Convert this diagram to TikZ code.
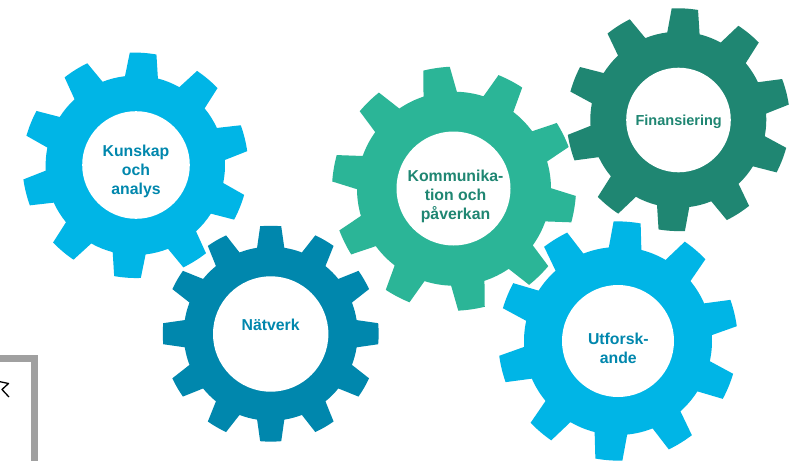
\documentclass[tikz,border=0pt]{standalone}
\usepackage{fontspec}
\setmainfont{Liberation Sans}
\definecolor{cblue}{HTML}{00B5E6}
\definecolor{cdark}{HTML}{0087AD}
\definecolor{cteal}{HTML}{2BB597}
\definecolor{cgreen}{HTML}{1F8672}
\definecolor{cframe}{HTML}{A0A0A0}
% #1 cx #2 cy #3 root #4 tip #5 start angle #6 teeth #7 half tip #8 half base #9 colour
\newcommand{\gearbody}[9]{%
\pgfmathsetmacro{\gstep}{360/#6}
\pgfmathsetmacro{\gthird}{(\gstep-2*#8)/3}
\pgfmathsetmacro{\gctl}{#3/cos(\gthird)}
\pgfmathsetmacro{\gtctl}{#4*(1+0.6*(1/cos(2*#7/3)-1))}
\pgfmathtruncatemacro{\glast}{#6-1}
\fill[#9,shift={(#1,#2)}] ({#3*cos(#5-#8)},{-#3*sin(#5-#8)})
\foreach \gi [evaluate=\gi as \ga using #5+\gstep*\gi] in {0,...,\glast}{
 -- ({#3*cos(\ga-#8)},{-#3*sin(\ga-#8)})
 -- ({#4*cos(\ga-#7)},{-#4*sin(\ga-#7)})
 .. controls ({\gtctl*cos(\ga-#7/3)},{-\gtctl*sin(\ga-#7/3)}) and ({\gtctl*cos(\ga+#7/3)},{-\gtctl*sin(\ga+#7/3)}) .. ({#4*cos(\ga+#7)},{-#4*sin(\ga+#7)})
 -- ({#3*cos(\ga+#8)},{-#3*sin(\ga+#8)})
 .. controls ({\gctl*cos(\ga+#8+\gthird)},{-\gctl*sin(\ga+#8+\gthird)}) and ({\gctl*cos(\ga+#8+2*\gthird)},{-\gctl*sin(\ga+#8+2*\gthird)}) .. ({#3*cos(\ga+\gstep-#8)},{-#3*sin(\ga+\gstep-#8)})
} -- cycle;
}
\tikzset{
 gtext/.style={font=\fontsize{15.8}{19.3}\selectfont\bfseries,align=center,inner sep=0pt},
 hole/.style={circle,fill=white,inner sep=0pt,minimum size=#1}
}
\begin{document}
\begin{tikzpicture}[x=1pt,y=-1pt]
\useasboundingbox (0,0) rectangle (800,461);
\fill[white] (0,0) rectangle (800,461);
\begin{scope}
\clip (0,0) rectangle (800,461);
\gearbody{135.3}{165.3}{89.7}{112.8}{86}{10}{6.8}{10.6}{cblue}
\gearbody{678.3}{119.7}{88}{111.5}{86.6}{10}{6.8}{10.6}{cgreen}
\gearbody{454}{188.7}{97}{122}{98.3}{10}{6.3}{10}{cteal}
\gearbody{618}{341}{94}{119.7}{85.6}{10}{6.5}{10}{cblue}
\gearbody{270.7}{333.7}{87}{108}{90}{12}{5.6}{9}{cdark}
\end{scope}
\node[hole=107.6pt] (h1) at (136,165) {};
\node[hole=104.6pt] (h2) at (678.5,120) {};
\node[hole=114pt] (h3) at (453.5,188.5) {};
\node[hole=112pt] (h4) at (618,341) {};
\node[hole=115.4pt] (h5) at (270.7,334) {};
\node[gtext,text=cdark] (t1) at (136,171.5) {Kunskap\\och\\analys};
\node[gtext,text=cgreen,font=\fontsize{14.5}{18}\selectfont\bfseries] (t2) at (678.7,121.5) {Finansiering};
\node[gtext,text=cgreen] (t3) at (455.5,196.5) {Kommunika-\\tion och\\påverkan};
\node[gtext,text=cdark] (t4) at (618.3,348) {Utforsk-\\ande};
\node[gtext,text=cdark] (t5) at (270.7,325.3) {Nätverk};
\fill[cframe] (0,355) rectangle (38,461);
\fill[white] (0,361.5) rectangle (31,461);
\coordinate (s0) at (0,381.7);
\coordinate (s1) at (8.5,383.5);
\coordinate (s2) at (2,389.5);
\coordinate (s3) at (9,397);
\draw[black,line width=1.3pt,line join=round] (s0) -- (s1) -- (s2) -- (s3);
\end{tikzpicture}
\end{document}
